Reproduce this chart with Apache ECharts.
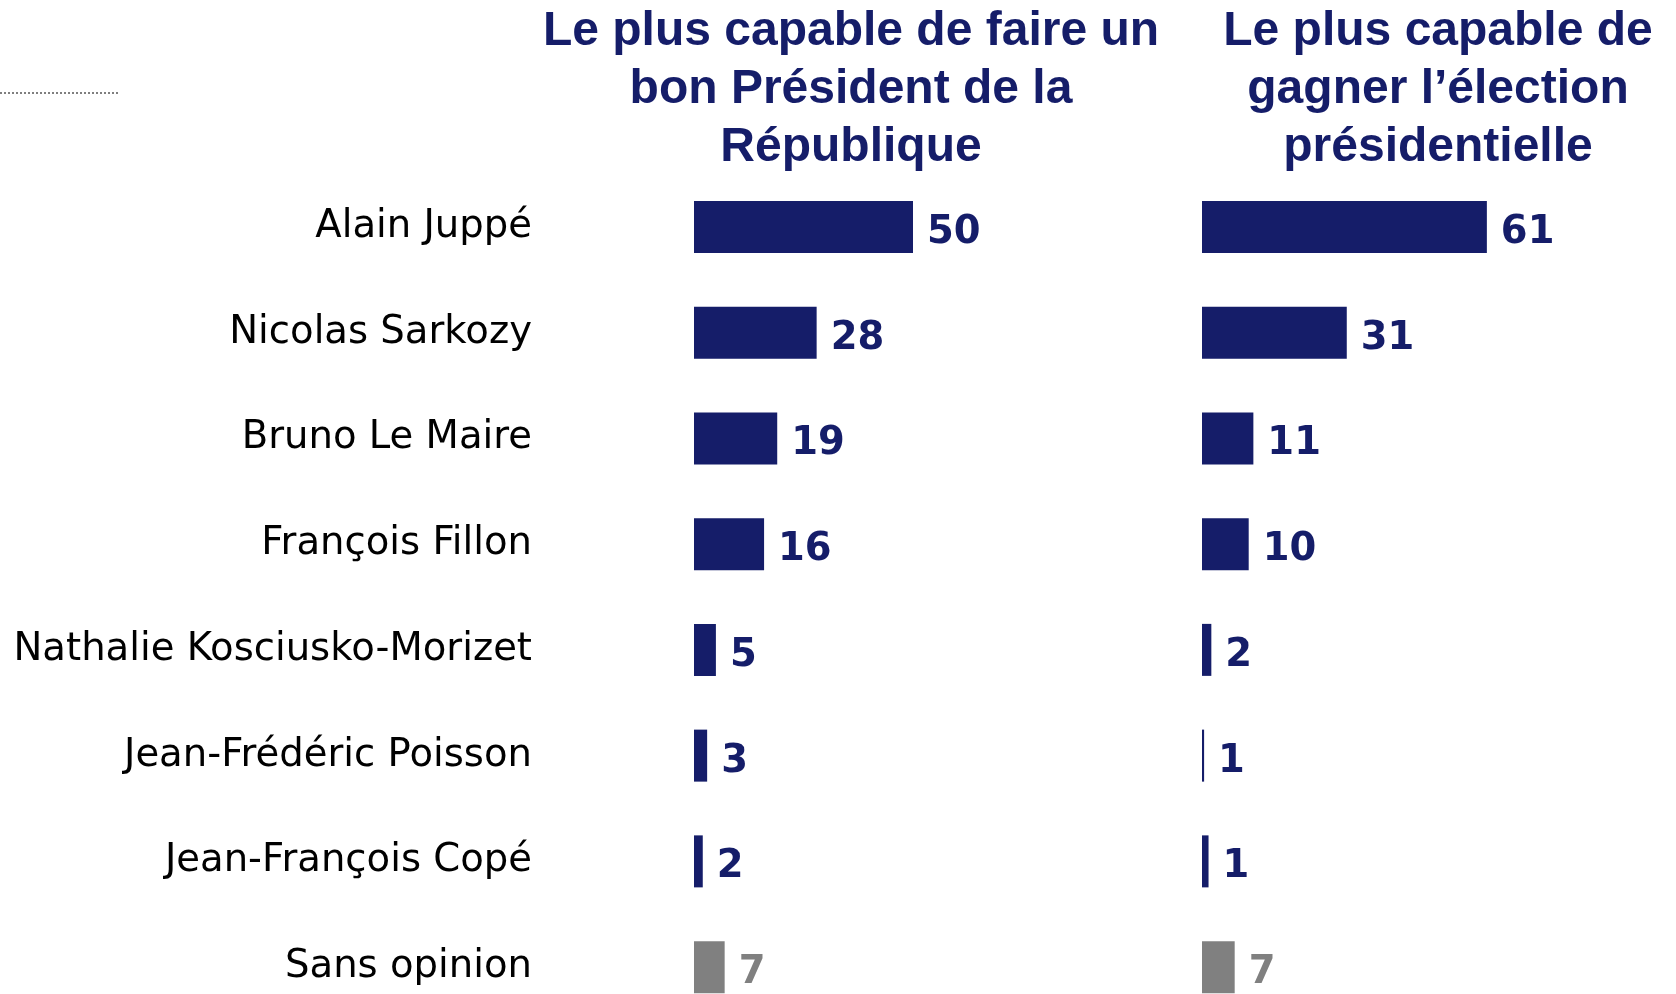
<!DOCTYPE html>
<html>
<head>
<meta charset="utf-8">
<script src="https://cdn.jsdelivr.net/npm/echarts@6/dist/echarts.min.js"></script>
<style>
  html, body { margin: 0; padding: 0; background: #fff; }
  #chart { width: 1676px; height: 994px; }
</style>
</head>
<body>
<div id="chart"></div>
<script>
// données
const categories = [
  'Alain Juppé',
  'Nicolas Sarkozy',
  'Bruno Le Maire',
  'François Fillon',
  'Nathalie Kosciusko-Morizet',
  'Jean-Frédéric Poisson',
  'Jean-François Copé',
  'Sans opinion'
]
const presidentValues = [50, 28, 19, 16, 5, 3, 2, 7]
const presidentLabels = ['50', '28', '19', '16', '5', '3', '2', '7']
const electionValues = [61, 31, 11, 10, 2, 0.45, 1.4, 7]
const electionLabels = ['61', '31', '11', '10', '2', '1', '1', '7']
const titles = [
  'Le plus capable de faire un\nbon Président de la\nRépublique',
  'Le plus capable de\ngagner l’élection\nprésidentielle'
]

const NAVY = '#151d69'
const GREY = '#808080'
const lastIdx = categories.length - 1

const chart = echarts.init(document.getElementById('chart'))

function barSeries(values, labels, axisIdx) {
  return {
    type: 'bar',
    xAxisIndex: axisIdx,
    yAxisIndex: axisIdx,
    barWidth: 52,
    data: values.map((v, i) => ({
      value: v,
      itemStyle: { color: i === lastIdx ? GREY : NAVY },
      label: { color: i === lastIdx ? GREY : NAVY }
    })),
    label: {
      show: true,
      position: 'right',
      distance: 14,
      offset: [0, 6],
      fontFamily: 'DejaVu Sans',
      fontWeight: 'bold',
      fontSize: 38.5,
      formatter: p => labels[p.dataIndex]
    },
    silent: true
  }
}

const titleStyle = {
  fontFamily: 'Liberation Sans',
  fontWeight: 'bold',
  fontSize: 48,
  lineHeight: 58,
  color: NAVY
}

const option = {
  animation: false,
  title: [
    { text: titles[0], left: 846, top: -2, textAlign: 'center', textStyle: titleStyle },
    { text: titles[1], left: 1433, top: -2, textAlign: 'center', textStyle: titleStyle }
  ],
  grid: [
    { left: 694, top: 174, width: 438, height: 846, outerBoundsMode: 'none' },
    { left: 1202, top: 174, width: 467, height: 846, outerBoundsMode: 'none' }
  ],
  xAxis: [0, 1].map(i => ({
    gridIndex: i,
    type: 'value',
    min: 0,
    max: 100,
    show: false
  })),
  yAxis: [0, 1].map(i => ({
    gridIndex: i,
    type: 'category',
    inverse: true,
    data: categories,
    axisLine: { show: false },
    axisTick: { show: false },
    splitLine: { show: false },
    axisLabel: {
      show: i === 0,
      margin: 162,
      fontFamily: 'DejaVu Sans',
      fontSize: 38.6,
      color: '#000'
    }
  })),
  series: [
    barSeries(presidentValues, presidentLabels, 0),
    barSeries(electionValues, electionLabels, 1)
  ],
  graphic: [
    {
      type: 'line',
      shape: { x1: 0, y1: 93, x2: 118, y2: 93 },
      style: { stroke: '#7f7f7f', lineWidth: 2, lineDash: [2, 2] }
    }
  ]
}

chart.setOption(option)
</script>
</body>
</html>
